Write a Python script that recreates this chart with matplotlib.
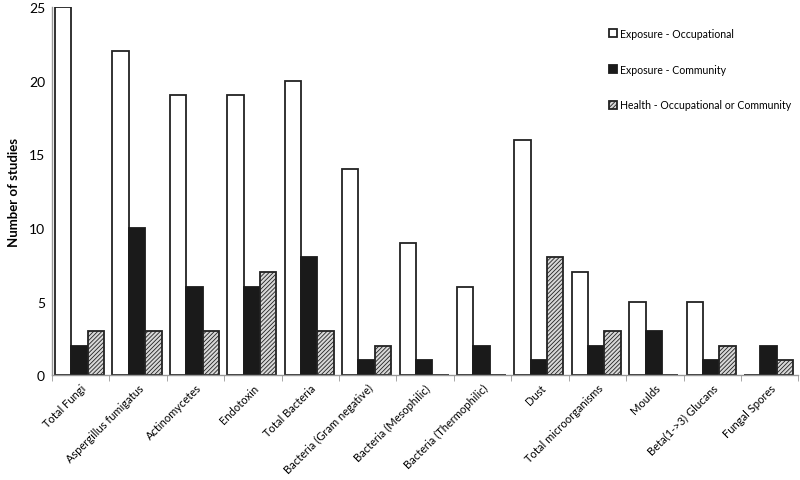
import numpy as np
import matplotlib
matplotlib.use("Agg")
import matplotlib.pyplot as plt

plt.rcParams['font.family'] = ['Lato', 'DejaVu Sans']
plt.rcParams['hatch.color'] = '#555555'
plt.rcParams['hatch.linewidth'] = 0.6

categories = ["Total Fungi", "Aspergillus fumigatus", "Actinomycetes", "Endotoxin",
              "Total Bacteria", "Bacteria (Gram negative)", "Bacteria (Mesophilic)",
              "Bacteria (Thermophilic)", "Dust", "Total microorganisms", "Moulds",
              "Beta(1->3) Glucans", "Fungal Spores"]
occupational = [25, 22, 19, 19, 20, 14, 9, 6, 16, 7, 5, 5, 0]
community = [2, 10, 6, 6, 8, 1, 1, 2, 1, 2, 3, 1, 2]
health = [3, 3, 3, 7, 3, 2, 0, 0, 8, 3, 0, 2, 1]

fig = plt.figure(figsize=(8, 4.81), dpi=100)
ax = fig.add_axes([0.065, 0.218, 0.933, 0.765])

x = np.arange(len(categories))
w = 0.285
ax.bar(x - w - 0.02, occupational, w, color='white', edgecolor='#222222', linewidth=1.3,
       label='Exposure - Occupational')
ax.bar(x - 0.02, community, w, color='#1a1a1a', edgecolor='#1a1a1a', linewidth=1.3,
       label='Exposure - Community')
ax.bar(x + w - 0.02, health, w, color='#d8d8d8', edgecolor='#222222', linewidth=1.3,
       hatch='////////', label='Health - Occupational or Community')

ax.set_xlim(-0.5, len(categories) - 0.5)
ax.set_ylim(0, 25)
ax.set_yticks([0, 5, 10, 15, 20, 25])
ax.set_xticks(x)
ax.set_xticklabels(categories, rotation=45, ha='right', rotation_mode='anchor',
                   fontsize=8)
ax.set_xticks(np.arange(len(categories) + 1) - 0.5, minor=True)
ax.tick_params(axis='x', which='major', length=0, pad=5)
ax.tick_params(axis='x', which='minor', length=4, color='#999999', direction='out')
ax.tick_params(axis='y', length=0, labelsize=10, pad=5)
ax.set_ylabel('Number of studies', fontsize=9.5, fontweight='bold', labelpad=6)

for s in ['top', 'right']:
    ax.spines[s].set_visible(False)
for s in ['left', 'bottom']:
    ax.spines[s].set_color('#999999')
    ax.spines[s].set_linewidth(1.0)

leg = ax.legend(loc='upper left', bbox_to_anchor=(0.733, 0.97), frameon=False,
                fontsize=7.6, labelspacing=2.35, handlelength=0.8, handleheight=0.8,
                handletextpad=0.3)

fig.savefig('out.png', dpi=100)
